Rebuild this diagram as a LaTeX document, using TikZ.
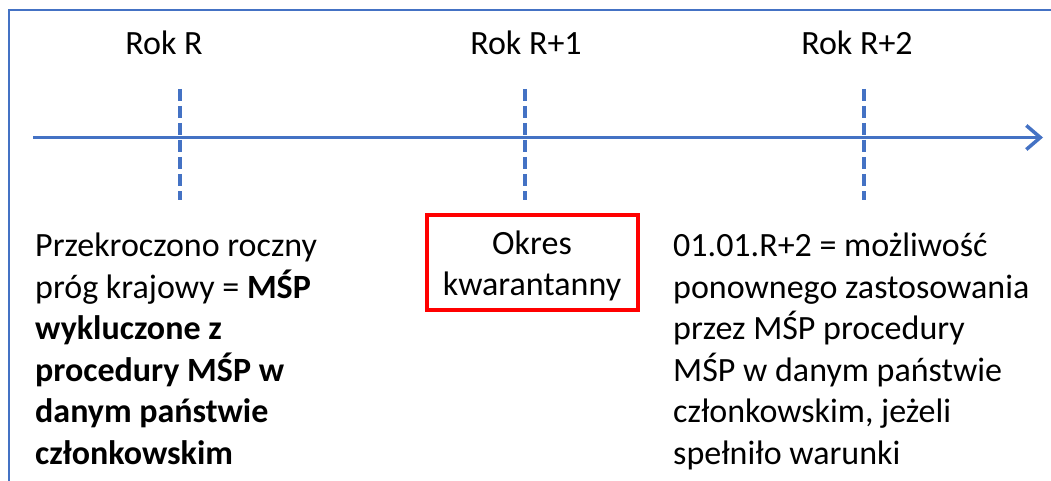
\documentclass[tikz,border=0pt]{standalone}
\usepackage{fontspec}
\setmainfont{Carlito}
\usetikzlibrary{arrows.meta}
\definecolor{axisblue}{RGB}{68,114,196}
\definecolor{boxred}{RGB}{255,0,0}
\begin{document}
\begin{tikzpicture}[x=1pt,y=-1pt,
  frameline/.style={draw=axisblue,line width=2pt},
  axisline/.style={draw=axisblue,line width=3.5pt,-{Straight Barb[length=14pt,width=24pt,line width=3.5pt]}},
  tickline/.style={draw=axisblue,line width=4pt,dash pattern=on 12pt off 5pt},
  textfont/.style={font=\fontsize{34}{41.5}\selectfont},
  yearlabel/.style={textfont,anchor=base,inner sep=0pt},
  bodytext/.style={textfont,anchor=base west,inner sep=0pt,align=left},
  quarantine/.style={draw=boxred,line width=4pt,minimum width=211pt,minimum height=95pt,inner sep=0pt},
  boxlabel/.style={textfont,inner sep=0pt,align=center}
]
\useasboundingbox (0,0) rectangle (1051,481);
% outer frame (top and left edges)
\coordinate (ftr) at (1053,10);
\coordinate (ftl) at (9,10);
\coordinate (fbl) at (9,483);
\draw[frameline] (ftr) -- (ftl) -- (fbl);
% time axis
\coordinate (axstart) at (33,137.5);
\coordinate (axend) at (1043,137.5);
\draw[axisline] (axstart) -- (axend);
% year ticks
\coordinate (t1a) at (180,89); \coordinate (t1b) at (180,200);
\coordinate (t2a) at (525,89); \coordinate (t2b) at (525,200);
\coordinate (t3a) at (864,89); \coordinate (t3b) at (864,200);
\draw[tickline] (t1a) -- (t1b);
\draw[tickline] (t2a) -- (t2b);
\draw[tickline] (t3a) -- (t3b);
% year labels
\node[yearlabel] (y1) at (164,55) {Rok R};
\node[yearlabel] (y2) at (526,55) {Rok R+1};
\node[yearlabel] (y3) at (857,55) {Rok R+2};
% descriptions (anchored at the baseline of the last line)
\node[bodytext] (left) at (35,464) {Przekroczono roczny\\próg krajowy = \textbf{MŚP}\\\textbf{wykluczone z}\\\textbf{procedury MŚP w}\\\textbf{danym państwie}\\\textbf{członkowskim}};
\node[quarantine] (box) at (532,262) {};
\node[boxlabel] (boxtext) at (532,266) {Okres\\kwarantanny};
\node[bodytext] (right) at (673,464) {01.01.R+2 = możliwość\\ponownego zastosowania\\przez MŚP procedury\\MŚP w danym państwie\\członkowskim, jeżeli\\spełniło warunki};
\end{tikzpicture}
\end{document}
